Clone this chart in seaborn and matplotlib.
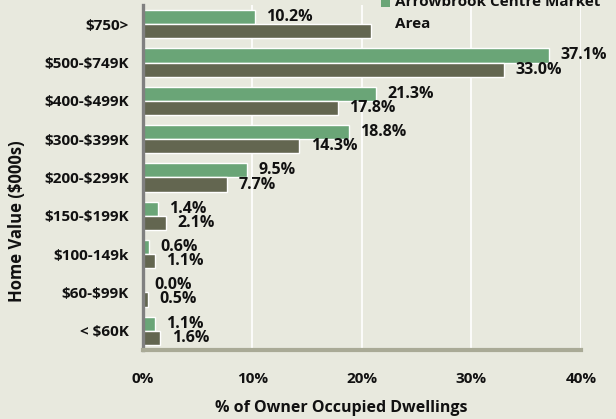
import pandas as pd
import matplotlib
matplotlib.use("Agg")
import matplotlib.pyplot as plt
import seaborn as sns
from matplotlib.patches import Rectangle
from matplotlib.ticker import FixedLocator, PercentFormatter

# Datos
categories = ["$750>", "$500-$749K", "$400-$499K", "$300-$399K", "$200-$299K",
              "$150-$199K", "$100-149k", "$60-$99K", "< $60K"]
arrowbrook = [10.2, 37.1, 21.3, 18.8, 9.5, 1.4, 0.6, 0.0, 1.1]
comparison = [20.8, 33.0, 17.8, 14.3, 7.7, 2.1, 1.1, 0.5, 1.6]
series_names = ["Arrowbrook Centre Market Area", "Comparison Area"]
x_ticks = [0, 10, 20, 30, 40]

BG = "#e8e9de"
GREEN = "#6aa577"
DARK = "#636650"
TXT = "#111111"
FS = 11

sns.set_theme(style="white")
plt.rcParams.update({
    "font.family": ["Open Sans", "DejaVu Sans"],
    "font.weight": "bold",
    "axes.labelweight": "bold",
    "text.parse_math": False,
})

df = pd.DataFrame({
    "category": categories * 2,
    "value": arrowbrook + comparison,
    "series": [series_names[0]] * len(categories) + [series_names[1]] * len(categories),
})

fig = plt.figure(figsize=(6.16, 4.19), dpi=100, facecolor=BG)
ax = fig.add_axes([0.232, 0.165, 0.711, 0.823], facecolor=BG)

sns.barplot(data=df, y="category", x="value", hue="series", order=categories,
            hue_order=series_names, palette=[GREEN, DARK], width=0.74, gap=0,
            orient="h", legend=False, ax=ax, saturation=1)

# etiquetas de datos
for i, container in enumerate(ax.containers):
    labels = [f"{v:.1f}%" for v in container.datavalues]
    if i == 1:
        labels[0] = ""  # tapada por la leyenda en el original
    ax.bar_label(container, labels=labels, padding=8, fontsize=11.5,
                 fontweight="bold", color=TXT)

ax.set_xlim(0, 40)
ax.set_ylim(len(categories) - 0.5, -0.5)
ax.xaxis.set_major_locator(FixedLocator(x_ticks))
ax.xaxis.set_major_formatter(PercentFormatter(decimals=0))
ax.grid(axis="x", color="white", linewidth=1.2)
ax.set_axisbelow(True)

for side in ["top", "right"]:
    ax.spines[side].set_visible(False)
ax.spines["left"].set_color("#808080")
ax.spines["left"].set_linewidth(2.4)
ax.spines["bottom"].set_color("#a9aa96")
ax.spines["bottom"].set_linewidth(3)

ax.tick_params(axis="x", length=4, width=3, color="#a9aa96", pad=12,
               labelsize=FS, labelcolor=TXT)
ax.tick_params(axis="y", which="major", length=0, pad=10,
               labelsize=FS, labelcolor=TXT)
ax.yaxis.set_minor_locator(FixedLocator([k - 0.5 for k in range(len(categories) + 1)]))
ax.tick_params(axis="y", which="minor", length=4, width=2.4, color="#808080")

ax.set_xlabel("% of Owner Occupied Dwellings", fontsize=11.5, color=TXT, va="center")
ax.set_ylabel("Home Value ($000s)", fontsize=12, color=TXT, va="center")
ax.xaxis.set_label_coords(0.453, -0.168)
ax.yaxis.set_label_coords(-0.288, 0.374)

# leyenda (recortada arriba, como en la imagen)
fig.patches.append(Rectangle((381 / 616, 1 - 7 / 419), 9 / 616, 10 / 419,
                             transform=fig.transFigure, facecolor=GREEN,
                             edgecolor="none"))
fig.text(395 / 616, 1 - 6 / 419, "Arrowbrook Centre Market", ha="left",
         va="baseline", fontsize=FS, fontweight="bold", color=TXT)
fig.text(395 / 616, 1 - 27.5 / 419, "Area", ha="left",
         va="baseline", fontsize=FS, fontweight="bold", color=TXT)

fig.savefig("out.png", dpi=100, facecolor=BG)
